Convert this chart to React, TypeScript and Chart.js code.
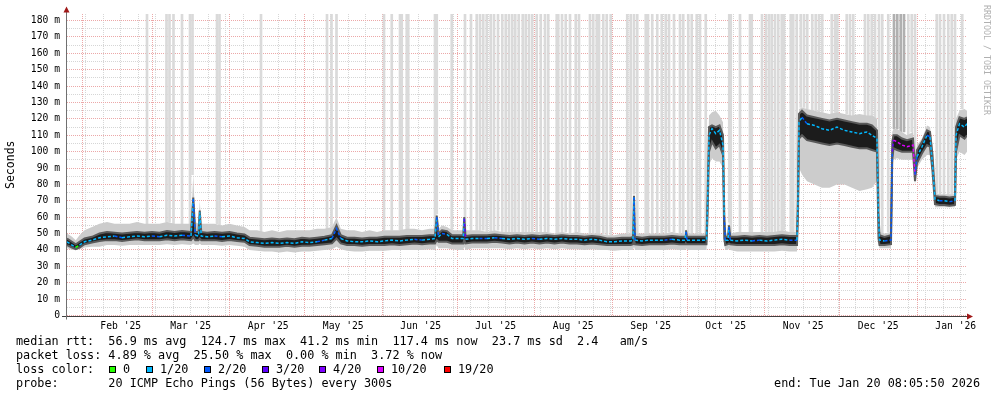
import React, { useEffect, useRef } from "react";
import { Chart, registerables } from "chart.js";

Chart.register(...registerables);

// ---------- data (x = days since 26 Jan 2025 00:00, values in ms) ----------
const dayOffsets = [
  0, 2, 3.5, 5, 7, 10, 13, 16, 19, 22, 25, 28, 31, 34, 37, 40, 43, 46, 49.6, 50.5,
  51.3, 52.6, 53.1, 53.7, 56, 59, 62, 65, 68, 71, 73, 76, 79, 82, 85, 88, 91, 94, 97, 100,
  103, 106, 107.8, 109.5, 112, 115, 118, 121, 124, 127, 130, 133, 136, 139, 142, 145, 147.2, 147.9, 148.6, 150,
  152, 154, 156.5, 158.5, 158.9, 159.4, 162, 165, 168, 171, 174, 177, 180, 183, 186, 189, 192, 195, 198, 201,
  204, 207, 210, 213, 216, 219, 222, 225.5, 226.4, 226.8, 227.2, 230, 233, 236, 239, 242, 245, 247.2, 247.6, 248,
  251, 254, 255.8, 256.2, 256.8, 258, 259.5, 261, 262.4, 262.9, 263.3, 264.4, 264.8, 265.3, 268, 271, 274, 277, 280, 283,
  286, 289, 292, 292.4, 292.8, 294, 296, 299, 302, 305, 308, 311, 314, 317, 320, 322, 324, 324.6, 325, 327,
  329.6, 330.1, 330.6, 332, 334, 336, 338.4, 339.2, 340, 342, 344, 345.2, 346.2, 347.2, 349, 351, 353, 355.2, 355.6, 357,
  359, 360,
];
const medianRtt = [
  45, 43, 41.5, 43, 45, 46, 47.5, 48, 48.5, 47.5, 48, 48.5, 48, 48.5, 48, 49, 48.5, 49, 48.5, 71,
  49, 48.5, 63, 48.5, 48, 48.5, 48, 48.5, 47.5, 47, 45, 44.5, 44, 44.5, 44, 44.5, 44, 45, 44.5, 45,
  46, 47, 53, 47, 45.5, 45, 45, 45.5, 45, 45.5, 46, 45.5, 46, 46.5, 46, 46.5, 47, 60, 48, 50,
  49.5, 47, 47, 47, 59, 46.5, 47, 47, 47, 47.5, 47, 46.5, 47, 46.5, 47, 46.5, 47, 46.5, 47, 46.5,
  46.5, 46, 46.5, 46, 45, 45, 45.5, 45.5, 46, 72, 46, 45.5, 46, 46, 46, 46.5, 46, 46, 51, 46,
  46, 46, 46, 66, 110, 114, 111, 113, 104, 60, 46, 46, 54, 46, 45.5, 46, 45.5, 46, 45.5, 46,
  46.5, 46, 46, 70, 118, 121, 117, 116, 114, 113, 115, 113, 112, 111, 112, 110, 108, 60, 46, 45.5,
  46, 100, 107, 106, 104, 103, 104, 86, 97, 103, 110, 109, 92, 71, 70, 70, 69.5, 70, 110, 117,
  115, 117,
];
const coreLow = [
  43, 41.5, 40.5, 41.5, 43.5, 44.5, 45.5, 46, 46, 45.5, 46, 46.5, 46, 46, 46, 46.5, 46, 46.5, 46, 48,
  46, 46, 47, 46, 46, 46, 45.5, 46, 45.5, 45, 43, 42.5, 42, 42, 42, 42.5, 42, 42.5, 42.5, 43,
  43.5, 44, 47, 44, 43, 43, 42.5, 43, 43, 43, 43.5, 43, 43.5, 44, 43.5, 44, 44, 46, 45, 45,
  45, 44, 44, 44, 46, 44, 44.5, 44.5, 44.5, 45, 44.5, 44, 44.5, 44, 44.5, 44, 44.5, 44, 44.5, 44,
  44, 43.5, 44, 43.5, 43, 43, 43, 43, 43.5, 46, 43.5, 43, 43.5, 43.5, 43.5, 44, 43.5, 43.5, 44, 43.5,
  43.5, 43.5, 43.5, 60, 100, 106, 102, 104, 98, 47, 43, 43.5, 44, 43.5, 43, 43, 43, 43, 43, 43,
  43.5, 43, 43, 62, 108, 110, 107, 106, 105, 104, 105, 104, 103, 102, 102, 101, 100, 47, 43, 43,
  43.5, 95, 102, 101, 100, 100, 100, 82, 93, 99, 104, 103, 88, 68, 67.5, 67.5, 67, 67.5, 100, 110,
  108, 110,
];
const coreHigh = [
  47, 45, 43.5, 45, 47, 48, 50, 51, 50.5, 50, 50.5, 51, 50.5, 51, 50.5, 51.5, 51, 51.5, 51, 72,
  51, 51, 64, 51, 50.5, 51, 50.5, 51, 50, 49.5, 47.5, 47, 46.5, 47, 46.5, 47, 46.5, 47.5, 47, 47.5,
  48, 49, 55, 49, 47.5, 47.5, 47, 47.5, 47.5, 48, 48, 48, 48.5, 48.5, 48.5, 49, 49, 61, 50, 52,
  51.5, 49, 49, 49, 60, 48.5, 49, 49, 49, 49.5, 49, 48.5, 49, 48.5, 49, 48.5, 49, 48.5, 49, 48.5,
  48.5, 48, 48.5, 48, 47, 47, 47.5, 47.5, 48, 73, 48, 47.5, 48, 48, 48, 48.5, 48, 48, 52, 48,
  48, 48, 48, 70, 115, 116, 115, 116, 110, 62, 48, 48, 55, 48, 48, 48.5, 48, 48.5, 48, 48.5,
  49, 48.5, 48.5, 72, 123, 125, 122, 121, 120, 119, 120, 119, 118, 117, 117, 116, 113, 63, 49, 48,
  49, 106, 110, 110, 108, 107, 108, 90, 101, 106, 113, 112, 98, 73, 72.5, 72.5, 72, 72.5, 115, 121,
  120, 121,
];
const smokeLow = [
  41, 40, 40, 40.5, 41.5, 42, 42, 43, 43, 42.5, 43, 43, 43, 43, 43, 43.5, 43, 43.5, 43, 44,
  43, 43, 44, 43, 43, 43, 42.5, 43, 42.5, 42, 40, 39.5, 39, 39, 38.5, 39, 38.5, 39, 39, 39.5,
  40, 40.5, 42, 40.5, 39.5, 39, 39, 39.5, 39.5, 39.5, 40, 40, 40, 40, 40, 40.5, 40, 43, 41, 41,
  41, 40.5, 40, 40, 42, 40, 41, 41, 41, 41, 41, 40.5, 41, 40.5, 41, 40.5, 41, 40.5, 41, 40.5,
  40.5, 40, 40.5, 40, 40, 39.5, 40, 40, 40, 42, 40, 40, 40, 40, 40, 40.5, 40, 40, 41, 40,
  40, 40, 40, 55, 92, 96, 94, 94, 90, 44, 40, 40, 41, 40, 39, 39, 39, 39, 39, 39,
  39.5, 39, 39, 58, 90, 86, 82, 80, 78, 78, 80, 80, 78, 76, 77, 78, 82, 44, 41, 41,
  41, 90, 95, 96, 95, 95, 95, 80, 90, 95, 98, 98, 86, 66, 66, 66, 66, 66, 95, 100,
  98, 100,
];
const smokeHigh = [
  50, 48, 46, 49, 52, 54, 56, 57, 56, 56, 56, 57, 56, 56, 56, 57, 56, 56, 56, 86,
  57, 56, 70, 56, 56, 56, 55, 56, 55, 54, 52, 52, 51, 52, 51, 52, 52, 52, 52, 53,
  53, 54, 60, 53, 52, 52, 51, 52, 51, 52, 52, 52, 53, 53, 52, 53, 53, 62, 53, 55,
  54, 52, 52, 52, 61, 52, 52, 52, 51, 52, 51, 51, 51, 51, 51, 51, 51, 50, 51, 50,
  51, 50, 50, 50, 49, 49, 50, 50, 50, 74, 50, 50, 50, 50, 50, 51, 50, 50, 53, 50,
  50, 50, 50, 75, 122, 124, 125, 122, 118, 64, 50, 50, 57, 50, 51, 51, 51, 51, 51, 51,
  52, 51, 51, 75, 126, 127, 126, 125, 124, 123, 124, 123, 122, 123, 122, 122, 120, 65, 51, 50,
  51, 112, 114, 114, 112, 110, 112, 95, 104, 108, 116, 115, 104, 75, 74, 74, 74, 74, 120, 125,
  126, 125,
];
const lossCount = [
  1, 1, 0, 1, 1, 1, 1, 1, 2, 1, 1, 1, 1, 2, 1, 1, 1, 2, 1, 2,
  1, 1, 1, 1, 1, 2, 1, 1, 1, 1, 1, 1, 1, 1, 1, 1, 1, 1, 1, 2,
  1, 2, 2, 1, 1, 1, 1, 1, 1, 1, 1, 1, 1, 2, 1, 1, 1, 2, 1, 2,
  1, 1, 1, 1, 3, 1, 1, 2, 1, 2, 1, 1, 1, 1, 2, 1, 1, 1, 1, 1,
  1, 1, 1, 1, 1, 1, 1, 1, 1, 2, 1, 1, 1, 1, 2, 1, 1, 1, 2, 1,
  1, 1, 1, 1, 1, 1, 1, 1, 1, 2, 1, 1, 2, 1, 1, 1, 2, 1, 1, 1,
  1, 2, 1, 1, 1, 2, 1, 1, 1, 1, 1, 1, 1, 1, 1, 1, 1, 1, 1, 2,
  2, 3, 10, 10, 10, 10, 10, 2, 1, 1, 2, 1, 1, 1, 2, 1, 2, 1, 1, 1,
  1, 1,
];
// probe rounds where the slowest pings ran off the top of the graph
const timeoutDays = [
  32.0, 39.8, 41.0, 42.6, 46.0, 49.2, 50.2, 60.0, 61.0, 77.6, 104.0, 105.8, 107.8,
  126.8, 129.9, 133.2, 133.9, 135.9, 136.5, 147.2, 147.9, 153.9, 159.2, 161.6, 163.9, 165.2,
  166.5, 167.9, 169.5, 170.8, 172.4, 174.1, 175.5, 176.8, 178.1, 179.3, 180.7, 182.3, 183.5,
  184.8, 186.1, 187.9, 189.5, 191.2, 192.5, 195.9, 196.5, 198.0, 199.5, 201.2, 203.5, 204.8,
  209.2, 210.5, 211.9, 212.8, 214.5, 215.9, 217.5, 224.1, 225.5, 226.8, 228.1, 231.5, 232.4,
  234.1, 236.1, 237.9, 239.5, 240.8, 242.8, 245.2, 246.5, 248.5, 249.9, 251.9, 253.2, 255.5,
  264.9, 265.5, 269.2, 273.2, 273.9, 278.0, 279.6, 280.8, 281.9, 283.2, 284.5, 285.9, 286.8,
  289.5, 290.5, 291.9, 293.5, 294.8, 296.1, 298.1, 299.5, 300.8, 302.1, 305.9, 307.2, 308.1,
  311.9, 313.2, 314.5, 319.2, 320.5, 321.9, 323.2, 324.8, 326.1, 328.5, 336.5, 337.9, 339.2,
  347.9, 349.2, 350.8, 352.5, 353.9, 355.2, 358.1,
];
const heavyTimeoutDays = [330.8, 332.1, 333.5, 334.8];

const monthStartDays = [6, 34, 65, 95, 126, 156, 187, 218, 248, 279, 309, 340];
const monthLabels = [
  "Feb '25", "Mar '25", "Apr '25", "May '25", "Jun '25", "Jul '25",
  "Aug '25", "Sep '25", "Oct '25", "Nov '25", "Dec '25", "Jan '26",
];

const lossLegend = [
  { label: "0", color: "#26ff00" },
  { label: "1/20", color: "#00b8ff" },
  { label: "2/20", color: "#0059ff" },
  { label: "3/20", color: "#5e00ff" },
  { label: "4/20", color: "#7e00ff" },
  { label: "10/20", color: "#dd00ff" },
  { label: "19/20", color: "#ff0000" },
];
const lossColorOf: Record<number, string> = {
  0: "#26ff00", 1: "#00b8ff", 2: "#0059ff", 3: "#5e00ff", 4: "#7e00ff", 10: "#dd00ff", 19: "#ff0000",
};

const statsLine1 = "median rtt:  56.9 ms avg  124.7 ms max  41.2 ms min  117.4 ms now  23.7 ms sd  2.4   am/s";
const statsLine2 = "packet loss: 4.89 % avg  25.50 % max  0.00 % min  3.72 % now";
const probeLine = "probe:       20 ICMP Echo Pings (56 Bytes) every 300s";
const endLine = "end: Tue Jan 20 08:05:50 2026";

// ---------- layout constants ----------
const X_MAX = 360;
const Y_MAX = 184;
const MONO = '"DejaVu Sans Mono", monospace';
const legendBoxX = [108.5, 146, 204, 261.5, 319, 376.5, 444];
const legendTextX = [123, 160, 218, 276, 333, 391, 458];
const MAJOR_GRID = "#eca8a8";
const MINOR_GRID = "#d6d6d6";

const pts = (arr: number[]) => dayOffsets.map((d, i) => ({ x: d, y: arr[i] }));
const nearest = (d: number) => {
  let best = 0;
  for (let i = 1; i < dayOffsets.length; i++) {
    if (Math.abs(dayOffsets[i] - d) < Math.abs(dayOffsets[best] - d)) best = i;
  }
  return best;
};

const axisPlugin = {
  id: "rrdAxes",
  afterDraw(chart: any) {
    const { ctx, chartArea } = chart;
    const { left, right, top, bottom } = chartArea;
    ctx.save();
    ctx.lineWidth = 1;
    ctx.strokeStyle = "#404040";
    ctx.beginPath();
    ctx.moveTo(left - 5, Math.round(bottom) + 0.5);
    ctx.lineTo(right + 3, Math.round(bottom) + 0.5);
    ctx.stroke();
    ctx.strokeStyle = "#707070";
    ctx.beginPath();
    ctx.moveTo(Math.round(left) - 0.5, bottom + 4);
    ctx.lineTo(Math.round(left) - 0.5, top - 4);
    ctx.stroke();
    ctx.fillStyle = "#a01818";
    ctx.beginPath();
    ctx.moveTo(left - 3.5, top - 1.5);
    ctx.lineTo(left + 2.5, top - 1.5);
    ctx.lineTo(left - 0.5, top - 7.5);
    ctx.closePath();
    ctx.fill();
    const by = Math.round(bottom) + 0.5;
    ctx.beginPath();
    ctx.moveTo(right + 0, by - 3);
    ctx.lineTo(right + 0, by + 3);
    ctx.lineTo(right + 6, by);
    ctx.closePath();
    ctx.fill();
    ctx.restore();
  },
};

export default function App() {
  const canvasRef = useRef<HTMLCanvasElement | null>(null);

  useEffect(() => {
    if (!canvasRef.current) return;
    const timeoutBars = timeoutDays.map((d) => ({ x: d, y: [smokeHigh[nearest(d)], Y_MAX] }));
    const heavyBars = heavyTimeoutDays.map((d) => ({ x: d, y: [smokeHigh[nearest(d)], Y_MAX] }));
    const yMajor: number[] = [];
    for (let v = 0; v <= 180; v += 10) yMajor.push(v);
    const yMinor: number[] = [];
    for (let v = 5; v < 184; v += 10) yMinor.push(v);
    const weekLines: number[] = [];
    for (let d = 7.5; d < X_MAX; d += 7) weekLines.push(d);

    const hiddenX = (ticks: number[], color: string) => ({
      type: "linear",
      position: "bottom",
      min: 0,
      max: X_MAX,
      offset: false,
      z: 1,
      ticks: { display: false },
      grid: { color, drawTicks: false, lineWidth: 1 },
      border: { display: false, dash: [1, 1] },
      afterBuildTicks: (s: any) => { s.ticks = ticks.map((value) => ({ value })); },
      afterFit: (s: any) => { s.height = 0; },
    });

    const chart = new Chart(canvasRef.current, {
      type: "line",
      data: {
        datasets: [
          {
            type: "bar", data: timeoutBars as any, backgroundColor: "#dadada", borderWidth: 0,
            barThickness: 2, grouped: false, order: 4,
          } as any,
          {
            type: "bar", data: heavyBars as any, backgroundColor: "#b0b0b0", borderWidth: 0,
            barThickness: 2, grouped: false, order: 4,
          } as any,
          { data: pts(smokeLow), borderWidth: 0, pointRadius: 0, fill: false, order: 2, borderColor: "rgba(0,0,0,0)" },
          { data: pts(smokeHigh), borderWidth: 0, pointRadius: 0, fill: "-1", backgroundColor: "#cccccc", order: 2, borderColor: "rgba(0,0,0,0)" },
          { data: pts(coreLow), borderWidth: 2, pointRadius: 0, fill: false, order: 1, borderColor: "#5a5a5a" },
          { data: pts(coreHigh), borderWidth: 2, pointRadius: 0, fill: "-1", backgroundColor: "#1c1c1c", order: 1, borderColor: "#5a5a5a" },
          {
            data: pts(medianRtt), borderWidth: 1.5, pointRadius: 0, fill: false, order: 0,
            borderColor: "#00b8ff", borderDash: [3, 2],
            segment: { borderColor: (c: any) => lossColorOf[lossCount[c.p0DataIndex]] || "#00b8ff" },
          } as any,
        ],
      },
      options: {
        animation: false,
        responsive: false,
        events: [],
        layout: { padding: { left: 0, right: 30, top: 14, bottom: 0 } },
        plugins: { legend: { display: false }, tooltip: { enabled: false }, title: { display: false } },
        scales: {
          x: {
            type: "linear", position: "bottom", min: 0, max: X_MAX, offset: false,
            grid: { display: false }, border: { display: false },
            ticks: {
              autoSkip: false, maxRotation: 0, padding: -3, color: "#000",
              font: { family: MONO, size: 9.7 },
              callback: (_v: any, i: number) => monthLabels[i],
            },
            afterBuildTicks: (s: any) => { s.ticks = monthStartDays.map((d) => ({ value: d + 15.5 })); },
            afterFit: (s: any) => { s.height = 81.5; },
          },
          xWeek: hiddenX(weekLines, MINOR_GRID) as any,
          xMonth: hiddenX(monthStartDays, MAJOR_GRID) as any,
          y: {
            type: "linear", position: "left", min: 0, max: Y_MAX, z: 1,
            grid: { color: MAJOR_GRID, drawTicks: false, lineWidth: 1 },
            border: { display: false, dash: [1, 1] },
            ticks: {
              padding: 7, color: "#000", font: { family: MONO, size: 9.7 },
              callback: (v: any) => (v === 0 ? "0" : `${v} m`),
            },
            afterBuildTicks: (s: any) => { s.ticks = yMajor.map((value) => ({ value })); },
            afterFit: (s: any) => { s.width = 67; },
            title: {
              display: true, text: "Seconds", color: "#000",
              font: { family: MONO, size: 11.5 }, padding: { top: 4, bottom: 0 },
            },
          },
          yMinor: {
            type: "linear", position: "left", min: 0, max: Y_MAX, z: 1,
            grid: { color: MINOR_GRID, drawTicks: false, lineWidth: 1 },
            border: { display: false, dash: [1, 1] },
            ticks: { display: false },
            afterBuildTicks: (s: any) => { s.ticks = yMinor.map((value) => ({ value })); },
            afterFit: (s: any) => { s.width = 0; },
          } as any,
        },
      } as any,
      plugins: [axisPlugin],
    });
    return () => chart.destroy();
  }, []);

  const textStyle: React.CSSProperties = {
    position: "absolute", font: `11.8px ${MONO}`, lineHeight: "14px", whiteSpace: "pre", color: "#000",
  };

  return (
    <div style={{ position: "fixed", left: 0, top: 0, width: 997, height: 397, background: "#fff", overflow: "hidden" }}>
      <canvas ref={canvasRef} width={997} height={397} style={{ position: "absolute", left: 0, top: 0, width: 997, height: 397 }} />
      <div style={{ ...textStyle, left: 16, top: 334 }}>{statsLine1}</div>
      <div style={{ ...textStyle, left: 16, top: 348 }}>{statsLine2}</div>
      <div style={{ ...textStyle, left: 16, top: 362 }}>{"loss color:"}</div>
      {lossLegend.map((item, i) => (
        <React.Fragment key={item.label}>
          <div style={{
            position: "absolute", left: legendBoxX[i], top: 365.5, width: 5, height: 5,
            background: item.color, border: "1px solid #000",
          }} />
          <div style={{ ...textStyle, left: legendTextX[i], top: 362 }}>{item.label}</div>
        </React.Fragment>
      ))}
      <div style={{ ...textStyle, left: 16, top: 376 }}>{probeLine}</div>
      <div style={{ ...textStyle, right: 17, top: 376 }}>{endLine}</div>
      <div style={{
        position: "absolute", left: 982, top: 5, writingMode: "vertical-rl", font: `8.3px ${MONO}`,
        lineHeight: "9px", color: "#b0b0b0", whiteSpace: "pre",
      }}>{"RRDTOOL / TOBI OETIKER"}</div>
    </div>
  );
}
